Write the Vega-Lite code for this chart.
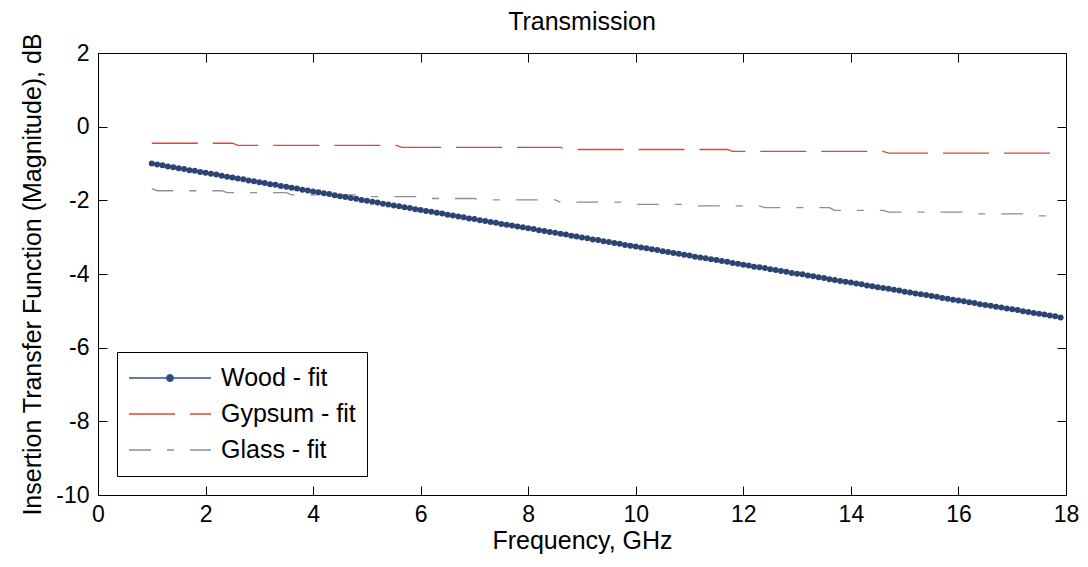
{
  "$schema": "https://vega.github.io/schema/vega-lite/v6.json",
  "width": 968,
  "height": 442,
  "autosize": {"type": "none"},
  "padding": {"left": 98, "top": 53, "right": 22, "bottom": 72},
  "background": "white",
  "title": {"text": "Transmission", "fontSize": 25, "fontWeight": "normal", "font": "Liberation Sans", "color": "#000", "offset": 8, "dy": 10, "frame": "group"},
  "config": {
    "font": "Liberation Sans",
    "view": {"stroke": "#000", "strokeWidth": 1},
    "axis": {"grid": false, "domainColor": "#000", "tickColor": "#000", "labelColor": "#000", "titleColor": "#000", "labelFontSize": 23, "titleFontSize": 25, "titleFontWeight": "normal", "tickSize": -9, "domainWidth": 1, "tickWidth": 1, "labelFont": "Liberation Sans", "titleFont": "Liberation Sans", "labelFlush": false}
  },
  "data": {"values": [
    {"m":"Wood - fit","f":1.0,"v":-1.00},{"m":"Wood - fit","f":1.1,"v":-1.03},{"m":"Wood - fit","f":1.2,"v":-1.05},{"m":"Wood - fit","f":1.3,"v":-1.08},{"m":"Wood - fit","f":1.4,"v":-1.10},{"m":"Wood - fit","f":1.5,"v":-1.13},{"m":"Wood - fit","f":1.6,"v":-1.15},{"m":"Wood - fit","f":1.7,"v":-1.18},{"m":"Wood - fit","f":1.8,"v":-1.20},{"m":"Wood - fit","f":1.9,"v":-1.23},
    {"m":"Wood - fit","f":2.0,"v":-1.25},{"m":"Wood - fit","f":2.1,"v":-1.28},{"m":"Wood - fit","f":2.2,"v":-1.30},{"m":"Wood - fit","f":2.3,"v":-1.33},{"m":"Wood - fit","f":2.4,"v":-1.36},{"m":"Wood - fit","f":2.5,"v":-1.38},{"m":"Wood - fit","f":2.6,"v":-1.41},{"m":"Wood - fit","f":2.7,"v":-1.43},{"m":"Wood - fit","f":2.8,"v":-1.46},{"m":"Wood - fit","f":2.9,"v":-1.48},
    {"m":"Wood - fit","f":3.0,"v":-1.51},{"m":"Wood - fit","f":3.1,"v":-1.53},{"m":"Wood - fit","f":3.2,"v":-1.56},{"m":"Wood - fit","f":3.3,"v":-1.58},{"m":"Wood - fit","f":3.4,"v":-1.61},{"m":"Wood - fit","f":3.5,"v":-1.63},{"m":"Wood - fit","f":3.6,"v":-1.66},{"m":"Wood - fit","f":3.7,"v":-1.68},{"m":"Wood - fit","f":3.8,"v":-1.71},{"m":"Wood - fit","f":3.9,"v":-1.73},
    {"m":"Wood - fit","f":4.0,"v":-1.76},{"m":"Wood - fit","f":4.1,"v":-1.78},{"m":"Wood - fit","f":4.2,"v":-1.81},{"m":"Wood - fit","f":4.3,"v":-1.83},{"m":"Wood - fit","f":4.4,"v":-1.86},{"m":"Wood - fit","f":4.5,"v":-1.89},{"m":"Wood - fit","f":4.6,"v":-1.91},{"m":"Wood - fit","f":4.7,"v":-1.94},{"m":"Wood - fit","f":4.8,"v":-1.96},{"m":"Wood - fit","f":4.9,"v":-1.99},
    {"m":"Wood - fit","f":5.0,"v":-2.01},{"m":"Wood - fit","f":5.1,"v":-2.04},{"m":"Wood - fit","f":5.2,"v":-2.06},{"m":"Wood - fit","f":5.3,"v":-2.09},{"m":"Wood - fit","f":5.4,"v":-2.11},{"m":"Wood - fit","f":5.5,"v":-2.14},{"m":"Wood - fit","f":5.6,"v":-2.16},{"m":"Wood - fit","f":5.7,"v":-2.19},{"m":"Wood - fit","f":5.8,"v":-2.21},{"m":"Wood - fit","f":5.9,"v":-2.24},
    {"m":"Wood - fit","f":6.0,"v":-2.26},{"m":"Wood - fit","f":6.1,"v":-2.29},{"m":"Wood - fit","f":6.2,"v":-2.31},{"m":"Wood - fit","f":6.3,"v":-2.34},{"m":"Wood - fit","f":6.4,"v":-2.36},{"m":"Wood - fit","f":6.5,"v":-2.39},{"m":"Wood - fit","f":6.6,"v":-2.41},{"m":"Wood - fit","f":6.7,"v":-2.44},{"m":"Wood - fit","f":6.8,"v":-2.46},{"m":"Wood - fit","f":6.9,"v":-2.49},
    {"m":"Wood - fit","f":7.0,"v":-2.51},{"m":"Wood - fit","f":7.1,"v":-2.54},{"m":"Wood - fit","f":7.2,"v":-2.56},{"m":"Wood - fit","f":7.3,"v":-2.59},{"m":"Wood - fit","f":7.4,"v":-2.61},{"m":"Wood - fit","f":7.5,"v":-2.64},{"m":"Wood - fit","f":7.6,"v":-2.66},{"m":"Wood - fit","f":7.7,"v":-2.68},{"m":"Wood - fit","f":7.8,"v":-2.71},{"m":"Wood - fit","f":7.9,"v":-2.73},
    {"m":"Wood - fit","f":8.0,"v":-2.76},{"m":"Wood - fit","f":8.1,"v":-2.78},{"m":"Wood - fit","f":8.2,"v":-2.81},{"m":"Wood - fit","f":8.3,"v":-2.83},{"m":"Wood - fit","f":8.4,"v":-2.86},{"m":"Wood - fit","f":8.5,"v":-2.88},{"m":"Wood - fit","f":8.6,"v":-2.91},{"m":"Wood - fit","f":8.7,"v":-2.93},{"m":"Wood - fit","f":8.8,"v":-2.96},{"m":"Wood - fit","f":8.9,"v":-2.98},
    {"m":"Wood - fit","f":9.0,"v":-3.01},{"m":"Wood - fit","f":9.1,"v":-3.03},{"m":"Wood - fit","f":9.2,"v":-3.06},{"m":"Wood - fit","f":9.3,"v":-3.08},{"m":"Wood - fit","f":9.4,"v":-3.11},{"m":"Wood - fit","f":9.5,"v":-3.13},{"m":"Wood - fit","f":9.6,"v":-3.16},{"m":"Wood - fit","f":9.7,"v":-3.18},{"m":"Wood - fit","f":9.8,"v":-3.21},{"m":"Wood - fit","f":9.9,"v":-3.23},
    {"m":"Wood - fit","f":10.0,"v":-3.25},{"m":"Wood - fit","f":10.1,"v":-3.28},{"m":"Wood - fit","f":10.2,"v":-3.30},{"m":"Wood - fit","f":10.3,"v":-3.33},{"m":"Wood - fit","f":10.4,"v":-3.35},{"m":"Wood - fit","f":10.5,"v":-3.38},{"m":"Wood - fit","f":10.6,"v":-3.40},{"m":"Wood - fit","f":10.7,"v":-3.43},{"m":"Wood - fit","f":10.8,"v":-3.45},{"m":"Wood - fit","f":10.9,"v":-3.48},
    {"m":"Wood - fit","f":11.0,"v":-3.50},{"m":"Wood - fit","f":11.1,"v":-3.53},{"m":"Wood - fit","f":11.2,"v":-3.55},{"m":"Wood - fit","f":11.3,"v":-3.57},{"m":"Wood - fit","f":11.4,"v":-3.60},{"m":"Wood - fit","f":11.5,"v":-3.62},{"m":"Wood - fit","f":11.6,"v":-3.65},{"m":"Wood - fit","f":11.7,"v":-3.67},{"m":"Wood - fit","f":11.8,"v":-3.70},{"m":"Wood - fit","f":11.9,"v":-3.72},
    {"m":"Wood - fit","f":12.0,"v":-3.75},{"m":"Wood - fit","f":12.1,"v":-3.77},{"m":"Wood - fit","f":12.2,"v":-3.80},{"m":"Wood - fit","f":12.3,"v":-3.82},{"m":"Wood - fit","f":12.4,"v":-3.84},{"m":"Wood - fit","f":12.5,"v":-3.87},{"m":"Wood - fit","f":12.6,"v":-3.89},{"m":"Wood - fit","f":12.7,"v":-3.92},{"m":"Wood - fit","f":12.8,"v":-3.94},{"m":"Wood - fit","f":12.9,"v":-3.97},
    {"m":"Wood - fit","f":13.0,"v":-3.99},{"m":"Wood - fit","f":13.1,"v":-4.01},{"m":"Wood - fit","f":13.2,"v":-4.04},{"m":"Wood - fit","f":13.3,"v":-4.06},{"m":"Wood - fit","f":13.4,"v":-4.09},{"m":"Wood - fit","f":13.5,"v":-4.11},{"m":"Wood - fit","f":13.6,"v":-4.14},{"m":"Wood - fit","f":13.7,"v":-4.16},{"m":"Wood - fit","f":13.8,"v":-4.19},{"m":"Wood - fit","f":13.9,"v":-4.21},
    {"m":"Wood - fit","f":14.0,"v":-4.23},{"m":"Wood - fit","f":14.1,"v":-4.26},{"m":"Wood - fit","f":14.2,"v":-4.28},{"m":"Wood - fit","f":14.3,"v":-4.31},{"m":"Wood - fit","f":14.4,"v":-4.33},{"m":"Wood - fit","f":14.5,"v":-4.36},{"m":"Wood - fit","f":14.6,"v":-4.38},{"m":"Wood - fit","f":14.7,"v":-4.40},{"m":"Wood - fit","f":14.8,"v":-4.43},{"m":"Wood - fit","f":14.9,"v":-4.45},
    {"m":"Wood - fit","f":15.0,"v":-4.48},{"m":"Wood - fit","f":15.1,"v":-4.50},{"m":"Wood - fit","f":15.2,"v":-4.53},{"m":"Wood - fit","f":15.3,"v":-4.55},{"m":"Wood - fit","f":15.4,"v":-4.57},{"m":"Wood - fit","f":15.5,"v":-4.60},{"m":"Wood - fit","f":15.6,"v":-4.62},{"m":"Wood - fit","f":15.7,"v":-4.65},{"m":"Wood - fit","f":15.8,"v":-4.67},{"m":"Wood - fit","f":15.9,"v":-4.70},
    {"m":"Wood - fit","f":16.0,"v":-4.72},{"m":"Wood - fit","f":16.1,"v":-4.74},{"m":"Wood - fit","f":16.2,"v":-4.77},{"m":"Wood - fit","f":16.3,"v":-4.79},{"m":"Wood - fit","f":16.4,"v":-4.82},{"m":"Wood - fit","f":16.5,"v":-4.84},{"m":"Wood - fit","f":16.6,"v":-4.86},{"m":"Wood - fit","f":16.7,"v":-4.89},{"m":"Wood - fit","f":16.8,"v":-4.91},{"m":"Wood - fit","f":16.9,"v":-4.94},
    {"m":"Wood - fit","f":17.0,"v":-4.96},{"m":"Wood - fit","f":17.1,"v":-4.98},{"m":"Wood - fit","f":17.2,"v":-5.01},{"m":"Wood - fit","f":17.3,"v":-5.03},{"m":"Wood - fit","f":17.4,"v":-5.06},{"m":"Wood - fit","f":17.5,"v":-5.08},{"m":"Wood - fit","f":17.6,"v":-5.10},{"m":"Wood - fit","f":17.7,"v":-5.13},{"m":"Wood - fit","f":17.8,"v":-5.15},{"m":"Wood - fit","f":17.9,"v":-5.18},
    {"m":"Gypsum - fit","f":1.0,"v":-0.45},{"m":"Gypsum - fit","f":2.5,"v":-0.45},{"m":"Gypsum - fit","f":2.6,"v":-0.51},{"m":"Gypsum - fit","f":5.55,"v":-0.51},{"m":"Gypsum - fit","f":5.65,"v":-0.56},{"m":"Gypsum - fit","f":8.6,"v":-0.56},{"m":"Gypsum - fit","f":8.7,"v":-0.62},{"m":"Gypsum - fit","f":11.7,"v":-0.62},{"m":"Gypsum - fit","f":11.8,"v":-0.67},{"m":"Gypsum - fit","f":14.6,"v":-0.67},{"m":"Gypsum - fit","f":14.7,"v":-0.72},{"m":"Gypsum - fit","f":17.8,"v":-0.72},{"m":"Gypsum - fit","f":17.9,"v":-0.78},
    {"m":"Glass - fit","f":1.0,"v":-1.68},{"m":"Glass - fit","f":1.1,"v":-1.74},{"m":"Glass - fit","f":2.3,"v":-1.74},{"m":"Glass - fit","f":2.4,"v":-1.79},{"m":"Glass - fit","f":3.5,"v":-1.79},{"m":"Glass - fit","f":3.6,"v":-1.85},{"m":"Glass - fit","f":4.8,"v":-1.85},{"m":"Glass - fit","f":4.9,"v":-1.90},{"m":"Glass - fit","f":6.0,"v":-1.90},{"m":"Glass - fit","f":6.1,"v":-1.95},{"m":"Glass - fit","f":7.0,"v":-1.95},{"m":"Glass - fit","f":7.1,"v":-1.99},{"m":"Glass - fit","f":8.5,"v":-1.99},{"m":"Glass - fit","f":8.6,"v":-2.05},{"m":"Glass - fit","f":9.8,"v":-2.05},{"m":"Glass - fit","f":9.9,"v":-2.11},{"m":"Glass - fit","f":11.0,"v":-2.11},{"m":"Glass - fit","f":11.1,"v":-2.15},{"m":"Glass - fit","f":12.3,"v":-2.15},{"m":"Glass - fit","f":12.4,"v":-2.20},{"m":"Glass - fit","f":13.6,"v":-2.20},{"m":"Glass - fit","f":13.7,"v":-2.27},{"m":"Glass - fit","f":14.6,"v":-2.27},{"m":"Glass - fit","f":14.7,"v":-2.32},{"m":"Glass - fit","f":16.1,"v":-2.32},{"m":"Glass - fit","f":16.2,"v":-2.37},{"m":"Glass - fit","f":17.4,"v":-2.37},{"m":"Glass - fit","f":17.5,"v":-2.42},{"m":"Glass - fit","f":17.9,"v":-2.42}
  ]},
  "layer": [
    {
      "mark": {"type": "line", "strokeWidth": 1.3},
      "encoding": {
        "x": {"field": "f", "type": "quantitative", "scale": {"domain": [0, 18], "nice": false}, "axis": {"orient": "bottom", "values": [0,2,4,6,8,10,12,14,16,18], "title": "Frequency, GHz", "labelPadding": 17, "titlePadding": 2}},
        "y": {"field": "v", "type": "quantitative", "scale": {"domain": [-10, 2], "nice": false}, "axis": {"orient": "left", "values": [-10,-8,-6,-4,-2,0,2], "labelExpr": "toString(datum.value)", "title": "Insertion Transfer Function (Magnitude), dB", "labelPadding": 18, "titlePadding": 10}},
        "color": {"field": "m", "type": "nominal", "scale": {"domain": ["Wood - fit", "Gypsum - fit", "Glass - fit"], "range": ["#34508a", "#e0462a", "#8f8f8f"]},
          "legend": {"title": null, "orient": "none", "legendX": 19, "legendY": 299, "direction": "vertical", "symbolType": "stroke", "symbolSize": 6724, "symbolStrokeWidth": 1.3, "clipHeight": 30, "rowPadding": 6, "padding": 11, "labelFontSize": 25, "labelOffset": 9, "labelColor": "#000", "labelFont": "Liberation Sans", "strokeColor": "#000", "fillColor": "#fff", "labelLimit": 400,
            "encode": {"symbols": {"update": {"shape": {"signal": "datum.value === 'Wood - fit' ? 'M-1,0H1M-0.08,0A0.08,0.08,0,1,1,0.08,0A0.08,0.08,0,1,1,-0.08,0Z' : 'stroke'"}, "fill": {"signal": "datum.value === 'Wood - fit' ? '#2c4474' : 'transparent'"}}}}}},
        "strokeDash": {"field": "m", "type": "nominal", "scale": {"domain": ["Wood - fit", "Gypsum - fit", "Glass - fit"], "range": [[1, 0], [46, 15], [22, 16, 7, 16]]},
          "legend": {"title": null, "orient": "none", "legendX": 19, "legendY": 299, "direction": "vertical", "symbolType": "stroke", "symbolSize": 6724, "symbolStrokeWidth": 1.3, "clipHeight": 30, "rowPadding": 6, "padding": 11, "labelFontSize": 25, "labelOffset": 9, "labelColor": "#000", "labelFont": "Liberation Sans", "strokeColor": "#000", "fillColor": "#fff", "labelLimit": 400,
            "encode": {"symbols": {"update": {"shape": {"signal": "datum.value === 'Wood - fit' ? 'M-1,0H1M-0.08,0A0.08,0.08,0,1,1,0.08,0A0.08,0.08,0,1,1,-0.08,0Z' : 'stroke'"}, "fill": {"signal": "datum.value === 'Wood - fit' ? '#2c4474' : 'transparent'"}}}}}}
      }
    },
    {
      "transform": [{"filter": "datum.m === 'Wood - fit'"}],
      "mark": {"type": "point", "filled": true, "size": 36, "color": "#2c4474", "opacity": 1},
      "encoding": {
        "x": {"field": "f", "type": "quantitative", "axis": null},
        "y": {"field": "v", "type": "quantitative", "axis": null}
      }
    },
    {
      "mark": {"type": "point", "opacity": 0},
      "encoding": {
        "x": {"field": "f", "type": "quantitative", "axis": {"orient": "top", "values": [0,2,4,6,8,10,12,14,16,18], "labels": false, "title": null, "domain": false}},
        "y": {"field": "v", "type": "quantitative", "axis": {"orient": "right", "values": [-10,-8,-6,-4,-2,0,2], "labels": false, "title": null, "domain": false}}
      }
    }
  ],
  "resolve": {"axis": {"x": "independent", "y": "independent"}}
}
